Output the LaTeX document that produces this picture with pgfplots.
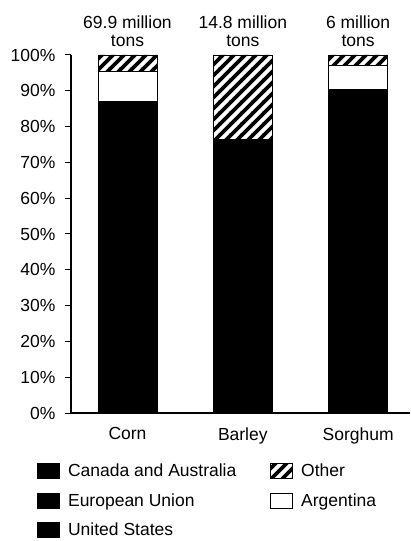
\documentclass[border=0pt]{standalone}
\usepackage{pgfplots}
\pgfplotsset{compat=1.18}
\usepackage{fontspec}
\setmainfont{Liberation Sans}
\usetikzlibrary{patterns}
\newcommand{\myfont}{\fontsize{17.5bp}{18bp}\selectfont}
\pgfdeclarepatternformonly{thickhatch}{\pgfqpoint{0pt}{0pt}}{\pgfqpoint{11pt}{11pt}}{\pgfqpoint{11pt}{11pt}}{%
  \pgfsetlinewidth{3.8pt}%
  \pgfpathmoveto{\pgfqpoint{-1pt}{-1pt}}\pgfpathlineto{\pgfqpoint{12pt}{12pt}}%
  \pgfpathmoveto{\pgfqpoint{-3pt}{8pt}}\pgfpathlineto{\pgfqpoint{3pt}{14pt}}%
  \pgfpathmoveto{\pgfqpoint{8pt}{-3pt}}\pgfpathlineto{\pgfqpoint{14pt}{3pt}}%
  \pgfusepath{stroke}%
}
\begin{document}
\begin{tikzpicture}[font=\myfont]
\useasboundingbox (0,0) rectangle (411bp,541bp);
\begin{axis}[
  at={(71bp,128bp)}, anchor=south west,
  scale only axis, width=339bp, height=358bp,
  ybar stacked, bar width=59bp,
  xmin=-0.49, xmax=2.45, ymin=0, ymax=100,
  axis x line*=bottom, axis y line*=left,
  axis line style={line width=1.2bp},
  xtick={0,1,2}, xticklabels={Corn,Barley,Sorghum},
  xtick style={draw=none},
  xticklabel style={yshift=-5bp},
  ytick={0,10,...,100},
  yticklabel={\pgfmathprintnumber{\tick}\%},
  yticklabel style={xshift=-6bp},
  ytick style={line width=1bp, black},
  tick align=outside, major tick length=6bp,
  /pgf/number format/assume math mode=true,
  tick label style={font=\myfont},
  clip=false,
  legend columns=2,
  legend cell align=left,
  legend style={at={(-0.1,-0.13)}, anchor=north west, draw=none, fill=none,
    inner sep=0pt, row sep=7.5bp, font=\myfont,
    nodes={inner sep=4bp},
    /tikz/every odd column/.append style={column sep=4bp},
    /tikz/every even column/.append style={column sep=30bp}},
  legend image code/.code={\draw[line width=0.8bp,#1] (0bp,-7.5bp) rectangle (22bp,7.5bp);},
]
\addplot[fill=black, draw=black, line width=0.8bp, forget plot] coordinates {(0,87.0) (1,10) (2,90.4)};
\addplot[fill=black, draw=black, line width=0.8bp, forget plot] coordinates {(0,0) (1,36) (2,0)};
\addplot[fill=black, draw=black, line width=0.8bp, forget plot] coordinates {(0,0) (1,30.3) (2,0)};
\addplot[fill=white, draw=black, line width=0.8bp, forget plot] coordinates {(0,8.3) (1,0) (2,6.6)};
\addplot[pattern=thickhatch, pattern color=black, draw=black, line width=0.8bp, forget plot] coordinates {(0,4.7) (1,23.7) (2,3)};

\addlegendimage{fill=black, draw=black}
\addlegendentry{Canada and Australia}
\addlegendimage{pattern=thickhatch, pattern color=black, draw=black}
\addlegendentry{Other}
\addlegendimage{fill=black, draw=black}
\addlegendentry{European Union}
\addlegendimage{fill=white, draw=black}
\addlegendentry{Argentina}
\addlegendimage{fill=black, draw=black}
\addlegendentry{United States}

\node[align=center, anchor=south, inner sep=0pt, yshift=8bp] at (axis cs:0,100) {69.9 million\\tons};
\node[align=center, anchor=south, inner sep=0pt, yshift=8bp] at (axis cs:1,100) {14.8 million\\tons};
\node[align=center, anchor=south, inner sep=0pt, yshift=8bp] at (axis cs:2,100) {6 million\\tons};
\end{axis}
\end{tikzpicture}
\end{document}
